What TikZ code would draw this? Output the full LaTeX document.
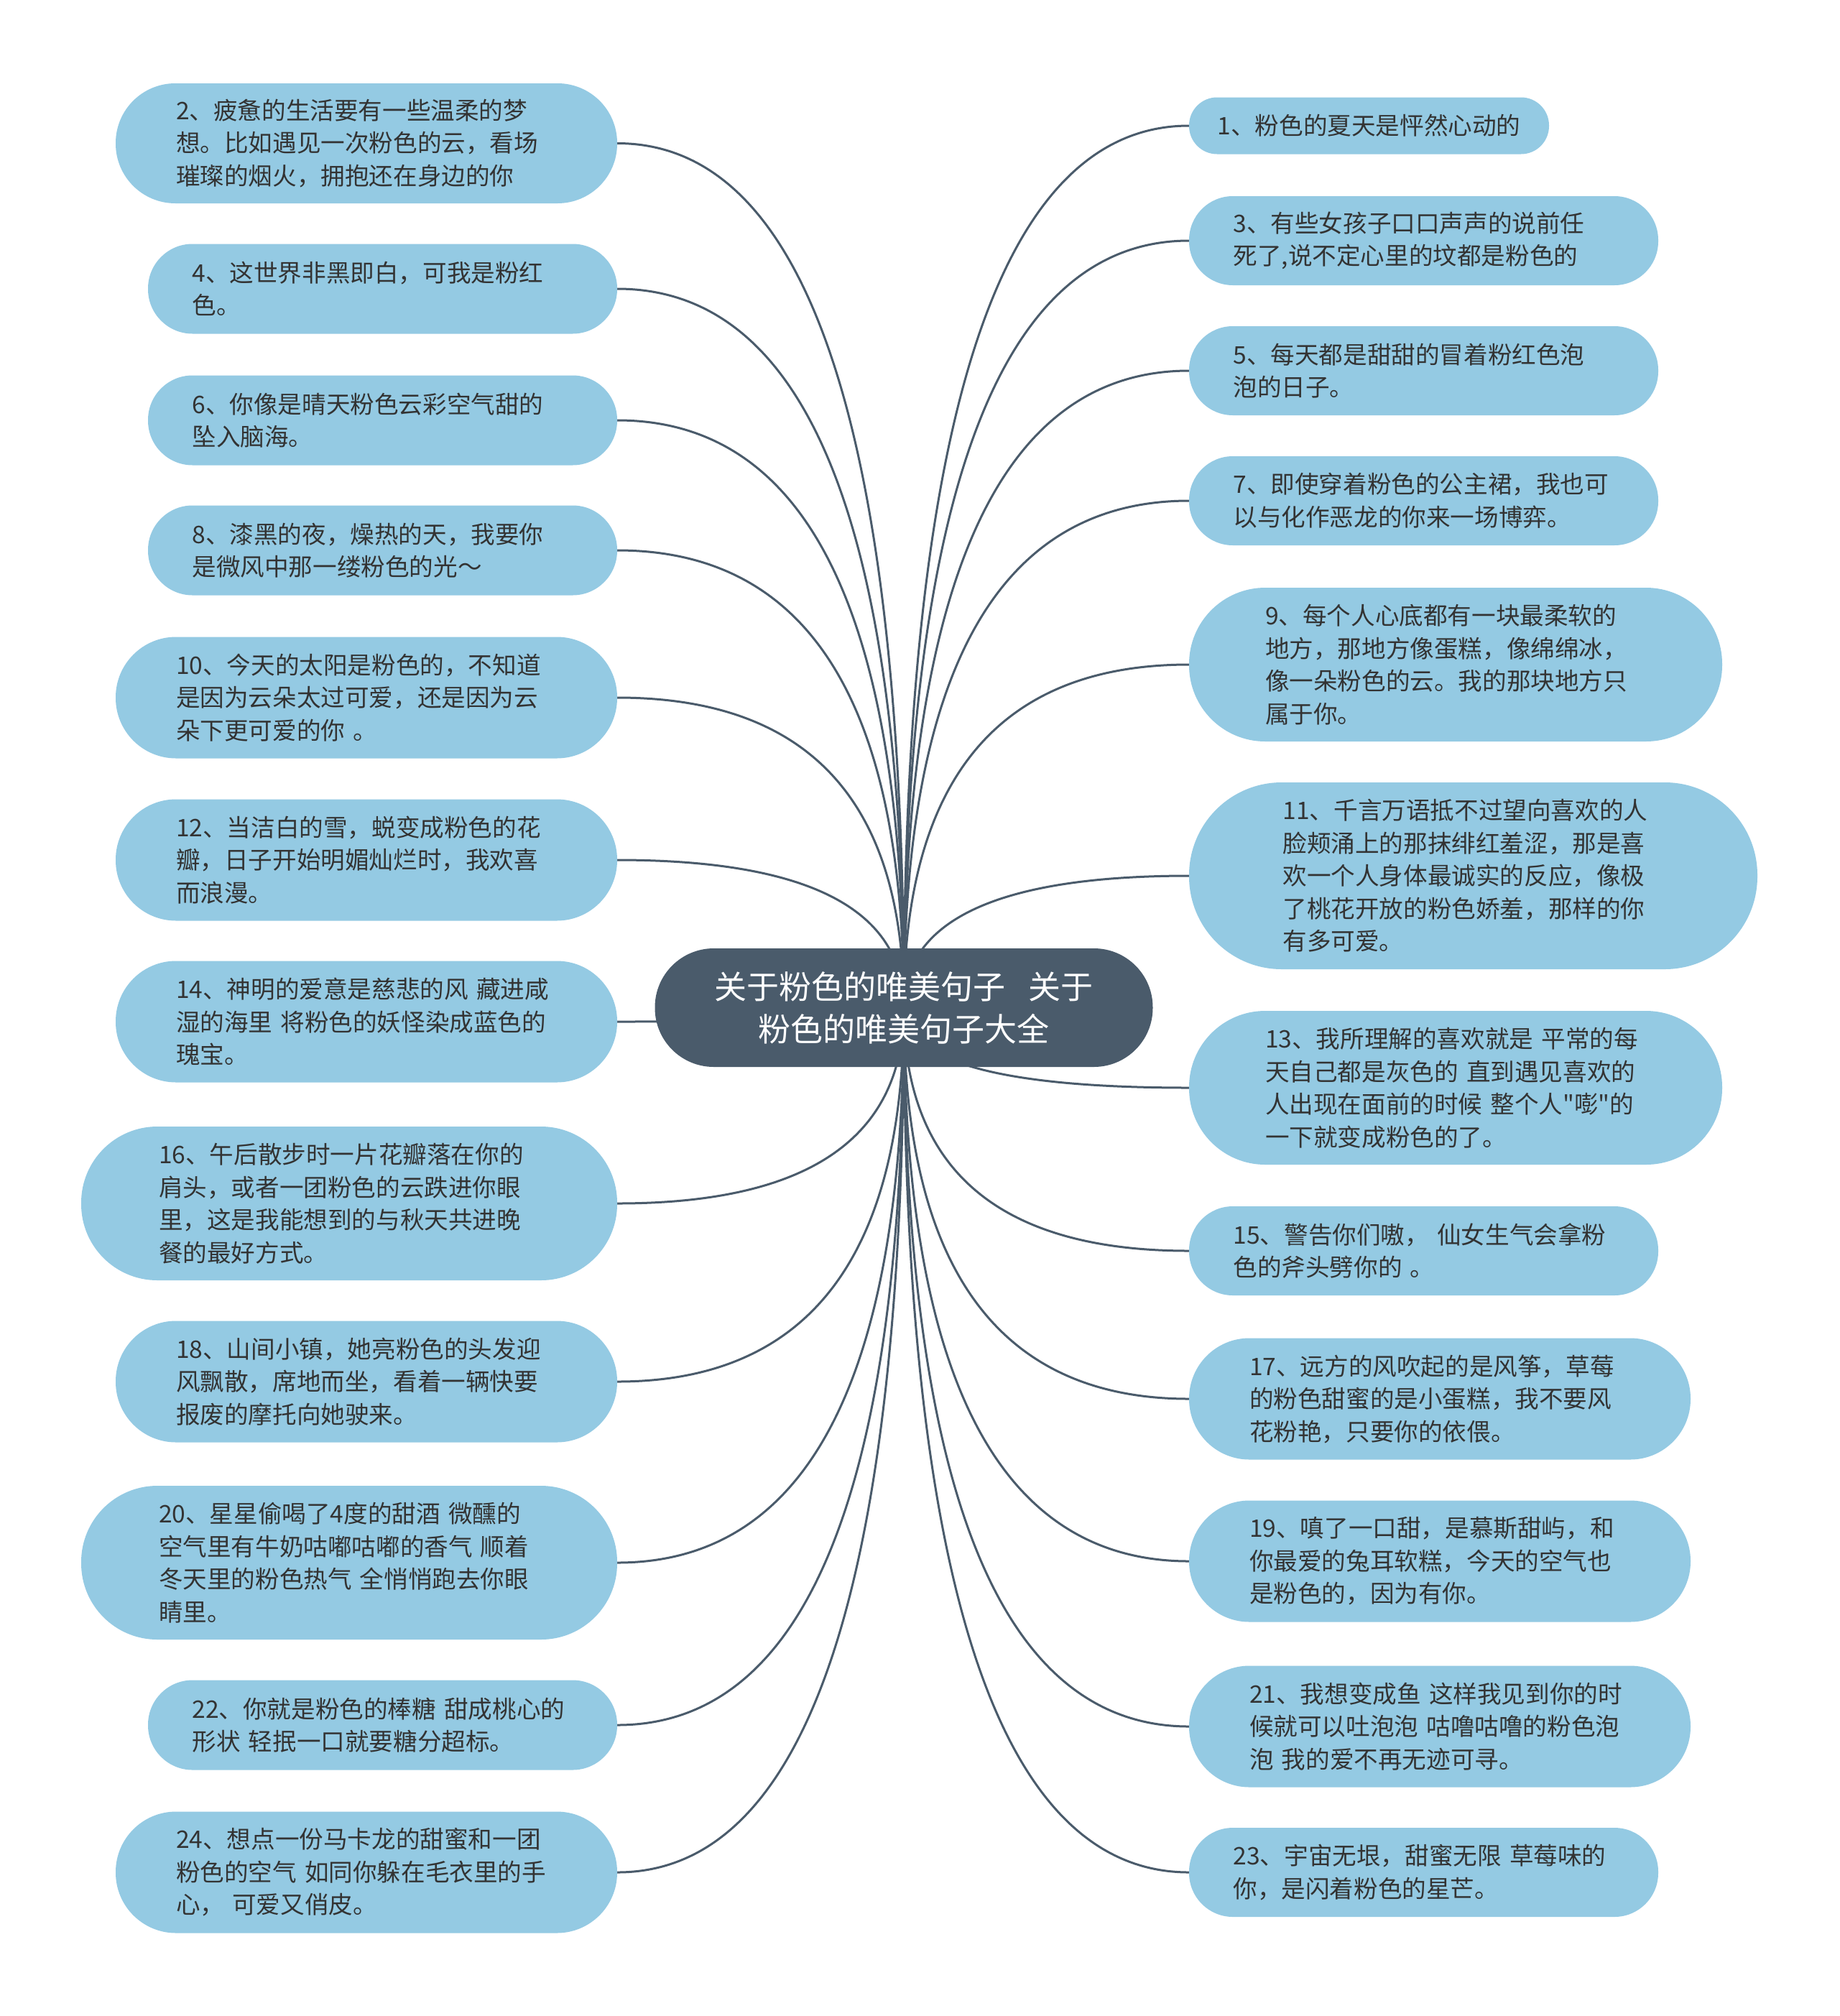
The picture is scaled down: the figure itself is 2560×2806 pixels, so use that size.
\documentclass[tikz,border=0pt]{standalone}
\usepackage{fontspec}
\newfontfamily\cjk{Noto Sans CJK SC}
\usetikzlibrary{calc,backgrounds}
\definecolor{leaffill}{HTML}{94CAE3}
\definecolor{rootfill}{HTML}{4A5B6B}
\definecolor{linecol}{HTML}{4A5B6B}
\definecolor{txtcol}{HTML}{333333}
\tikzset{
  leaf/.style n args={3}{fill=leaffill, text=txtcol, font=\cjk\fontsize{33.6}{45.5}\selectfont,
    align=left, text width=530pt, minimum width=#1pt, minimum height=#2pt, rounded corners=#3pt, inner sep=0pt},
  leafone/.style n args={3}{fill=leaffill, text=txtcol, font=\cjk\fontsize{33.6}{45.5}\selectfont,
    align=left, minimum width=#1pt, minimum height=#2pt, rounded corners=#3pt, inner sep=0pt},
  rootbox/.style={fill=rootfill, text=white, font=\cjk\fontsize{45}{59}\selectfont,
    align=center, minimum width=693pt, minimum height=165pt, rounded corners=82pt, inner sep=0pt},
  conn/.style={draw=linecol, line width=3pt},
}
\newcommand\mylink[2]{%
  \coordinate (k-#1) at (root.center |- #1.#2);
  \draw[conn] (root.center) .. controls ($(root.center)!0.6667!(k-#1)$) and ($(#1.#2)!0.6667!(k-#1)$) .. (#1.#2);}
\begin{document}
\begin{tikzpicture}[x=1pt,y=-1pt]
\path[use as bounding box] (0,0) rectangle (2560,2806);
% root
\node[rootbox] (root) at (1258,1402.5) {关于粉色的唯美句子\hspace{0.7em}关于\\粉色的唯美句子大全};
% left
\node[leaf={698}{167}{83}] (n2) at (510,199.5) {2、疲惫的生活要有一些温柔的梦\\想。比如遇见一次粉色的云，看场\\璀璨的烟火，拥抱还在身边的你};
\node[leaf={653}{125}{62}] (n4) at (532.5,402) {4、这世界非黑即白，可我是粉红\\色。};
\node[leaf={653}{125}{62}] (n6) at (532.5,585) {6、你像是晴天粉色云彩空气甜的\\坠入脑海。};
\node[leaf={653}{125}{62}] (n8) at (532.5,766) {8、漆黑的夜，燥热的天，我要你\\是微风中那一缕粉色的光～};
\node[leaf={698}{169}{84}] (n10) at (510,971) {10、今天的太阳是粉色的，不知道\\是因为云朵太过可爱，还是因为云\\朵下更可爱的你 。};
\node[leaf={698}{169}{84}] (n12) at (510,1197) {12、当洁白的雪，蜕变成粉色的花\\瓣，日子开始明媚灿烂时，我欢喜\\而浪漫。};
\node[leaf={698}{169}{84}] (n14) at (510,1422) {14、神明的爱意是慈悲的风 藏进咸\\湿的海里 将粉色的妖怪染成蓝色的\\瑰宝。};
\node[leaf={746}{214}{106}] (n16) at (486,1675) {16、午后散步时一片花瓣落在你的\\肩头，或者一团粉色的云跌进你眼\\里，这是我能想到的与秋天共进晚\\餐的最好方式。};
\node[leaf={698}{169}{84}] (n18) at (510,1923) {18、山间小镇，她亮粉色的头发迎\\风飘散，席地而坐，看着一辆快要\\报废的摩托向她驶来。};
\node[leaf={746}{214}{106}] (n20) at (486,2175) {20、星星偷喝了4度的甜酒 微醺的\\空气里有牛奶咕嘟咕嘟的香气 顺着\\冬天里的粉色热气 全悄悄跑去你眼\\睛里。};
\node[leaf={653}{125}{62}] (n22) at (532.5,2401) {22、你就是粉色的棒糖 甜成桃心的\\形状 轻抿一口就要糖分超标。};
\node[leaf={698}{169}{84}] (n24) at (510,2606) {24、想点一份马卡龙的甜蜜和一团\\粉色的空气 如同你躲在毛衣里的手\\心， 可爱又俏皮。};
% right
\node[leafone={501}{79}{39}] (n1) at (1905.5,175) {1、粉色的夏天是怦然心动的};
\node[leaf={653}{124}{61}] (n3) at (1981.5,335) {3、有些女孩子口口声声的说前任\\死了,说不定心里的坟都是粉色的};
\node[leaf={653}{124}{61}] (n5) at (1981.5,516) {5、每天都是甜甜的冒着粉红色泡\\泡的日子。};
\node[leaf={653}{124}{61}] (n7) at (1981.5,697) {7、即使穿着粉色的公主裙，我也可\\以与化作恶龙的你来一场博弈。};
\node[leaf={742}{214}{106}] (n9) at (2026,925) {9、每个人心底都有一块最柔软的\\地方，那地方像蛋糕，像绵绵冰，\\像一朵粉色的云。我的那块地方只\\属于你。};
\node[leaf={791}{260}{129}] (n11) at (2050.5,1219) {11、千言万语抵不过望向喜欢的人\\脸颊涌上的那抹绯红羞涩，那是喜\\欢一个人身体最诚实的反应，像极\\了桃花开放的粉色娇羞，那样的你\\有多可爱。};
\node[leaf={742}{214}{106}] (n13) at (2026,1514) {13、我所理解的喜欢就是 平常的每\\天自己都是灰色的 直到遇见喜欢的\\人出现在面前的时候 整个人"嘭"的\\一下就变成粉色的了。};
\node[leaf={653}{124}{61}] (n15) at (1981.5,1741) {15、警告你们嗷， 仙女生气会拿粉\\色的斧头劈你的 。};
\node[leaf={698}{169}{84}] (n17) at (2004,1947) {17、远方的风吹起的是风筝，草莓\\的粉色甜蜜的是小蛋糕，我不要风\\花粉艳，只要你的依偎。};
\node[leaf={698}{169}{84}] (n19) at (2004,2173) {19、嗔了一口甜，是慕斯甜屿，和\\你最爱的兔耳软糕，今天的空气也\\是粉色的，因为有你。};
\node[leaf={698}{169}{84}] (n21) at (2004,2403) {21、我想变成鱼 这样我见到你的时\\候就可以吐泡泡 咕噜咕噜的粉色泡\\泡 我的爱不再无迹可寻。};
\node[leaf={653}{124}{61}] (n23) at (1981.5,2606) {23、宇宙无垠，甜蜜无限 草莓味的\\你，是闪着粉色的星芒。};
\begin{pgfonlayer}{background}
\fill[white] (0,0) rectangle (2560,2806);
\mylink{n2}{east}\mylink{n4}{east}\mylink{n6}{east}\mylink{n8}{east}
\mylink{n10}{east}\mylink{n12}{east}\mylink{n14}{east}\mylink{n16}{east}
\mylink{n18}{east}\mylink{n20}{east}\mylink{n22}{east}\mylink{n24}{east}
\mylink{n1}{west}\mylink{n3}{west}\mylink{n5}{west}\mylink{n7}{west}
\mylink{n9}{west}\mylink{n11}{west}\mylink{n13}{west}\mylink{n15}{west}
\mylink{n17}{west}\mylink{n19}{west}\mylink{n21}{west}\mylink{n23}{west}
\end{pgfonlayer}
\end{tikzpicture}
\end{document}
